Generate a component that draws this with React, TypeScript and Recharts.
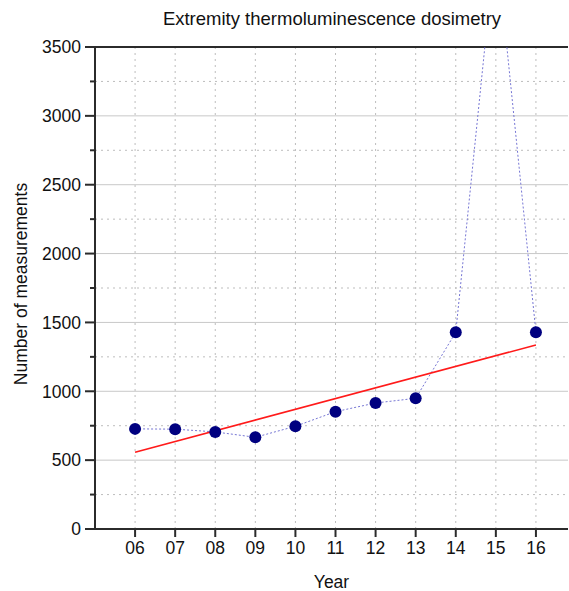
import { CartesianGrid, Label, Line, LineChart, ReferenceLine, XAxis, YAxis } from "recharts";

const years = [6, 7, 8, 9, 10, 11, 12, 13, 14, 15, 16];
const counts = [727, 725, 705, 666, 746, 852, 915, 949, 1428, 4285, 1428];
// fitted trend, only the two ends are drawn
const trend = [558, null, null, null, null, null, null, null, null, null, 1336];

const yTicks = [0, 250, 500, 750, 1000, 1250, 1500, 1750, 2000, 2250, 2500, 2750, 3000, 3250, 3500];
const majorY = [500, 1000, 1500, 2000, 2500, 3000];
const minorY = [250, 750, 1250, 1750, 2250, 2750, 3250];

const rows = years.map((year, i) => ({ year, count: counts[i], trend: trend[i] }));

const AXIS = "#2b2b2b";
const FS = 17.5;

function YTick({ x, y, payload }: any) {
  const major = payload.value % 500 === 0;
  return (
    <g>
      <line x1={x - (major ? 10 : 5)} x2={x} y1={y} y2={y} stroke={AXIS} strokeWidth={2} />
      {major && (
        <text x={x - 14} y={y} dy="0.36em" textAnchor="end" fontSize={FS} fill="#111">
          {payload.value}
        </text>
      )}
    </g>
  );
}

export default function App() {
  return (
    <div
      style={{
        position: "absolute",
        left: 0,
        top: 0,
        width: 569,
        height: 591,
        background: "#fff",
        fontFamily: '"Liberation Sans", Arial, sans-serif',
      }}
    >
      <div
        style={{
          position: "absolute",
          left: 95,
          width: 474,
          top: 9,
          textAlign: "center",
          fontSize: 18.5,
          lineHeight: "20px",
          color: "#111",
        }}
      >
        Extremity thermoluminescence dosimetry
      </div>
      <LineChart width={569} height={591} data={rows} margin={{ top: 47, right: 1, left: 0, bottom: 0 }}>
        <CartesianGrid horizontalValues={majorY} vertical={false} stroke="#c8c8c8" />
        <CartesianGrid horizontalValues={minorY} verticalValues={years} stroke="#bdbdbd" strokeDasharray="2 4" />
        <XAxis
          dataKey="year"
          type="number"
          domain={[5, 16.8]}
          ticks={years}
          interval={0}
          height={62}
          tickSize={8}
          tickMargin={5}
          tickFormatter={(v) => String(v).padStart(2, "0")}
          tick={{ fontSize: FS, fill: "#111" }}
          axisLine={{ stroke: AXIS, strokeWidth: 2 }}
          tickLine={{ stroke: AXIS, strokeWidth: 2 }}
        >
          <Label value="Year" position="insideBottom" offset={3} style={{ fontSize: FS, fill: "#111" }} />
        </XAxis>
        <YAxis
          type="number"
          domain={[0, 3500]}
          ticks={yTicks}
          interval={0}
          allowDataOverflow
          width={95}
          tickSize={0}
          tickMargin={0}
          tick={<YTick />}
          tickLine={false}
          axisLine={{ stroke: AXIS, strokeWidth: 2 }}
        >
          <Label
            value="Number of measurements"
            position="insideLeft"
            angle={-90}
            offset={21}
            dy={-4}
            style={{ fontSize: FS, fill: "#111", textAnchor: "middle" }}
          />
        </YAxis>
        <ReferenceLine y={3500} stroke={AXIS} strokeWidth={2} />
        <Line
          dataKey="count"
          stroke="#7676d4"
          strokeWidth={1}
          strokeDasharray="2 2"
          dot={{ r: 6, fill: "#000080", stroke: "none" }}
          isAnimationActive={false}
        />
        <Line
          dataKey="trend"
          stroke="#ff1a1a"
          strokeWidth={1.6}
          connectNulls
          dot={false}
          isAnimationActive={false}
        />
      </LineChart>
    </div>
  );
}
